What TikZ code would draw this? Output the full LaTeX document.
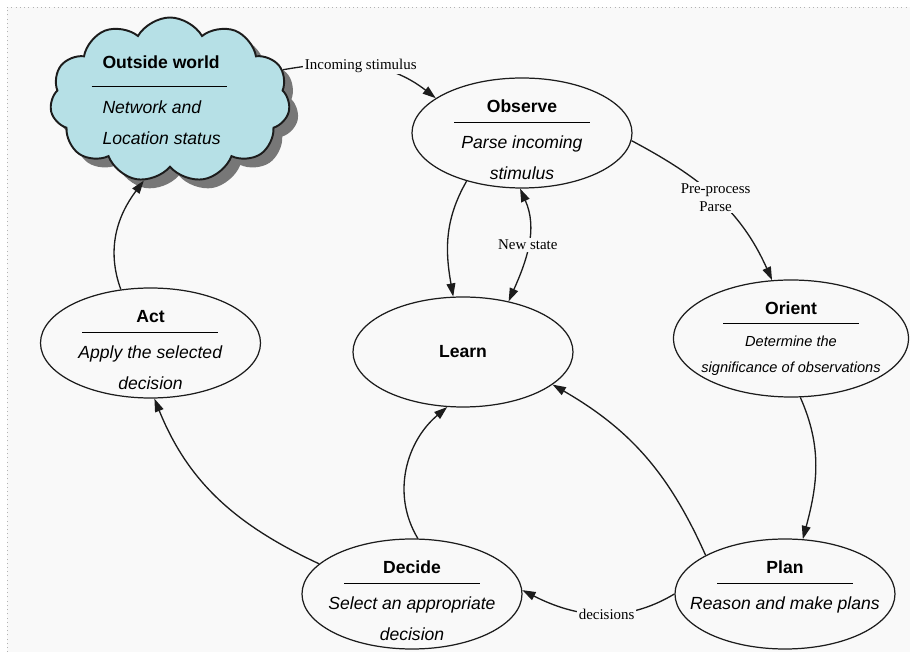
\documentclass[tikz,border=0pt]{standalone}
\usepackage{fontspec}
\setmainfont{Liberation Serif}
\setsansfont{Liberation Sans}
\usepackage{tikz}
\usetikzlibrary{shapes.geometric, shapes.symbols, arrows.meta, shadows}
\definecolor{cloudcolor}{RGB}{182, 224, 230}
\definecolor{pagecolor}{RGB}{249, 249, 249}
\definecolor{inkcolor}{RGB}{28, 28, 28}

\newcommand{\splitline}{\rule{2.72cm}{0.8pt}}
\newcommand{\stagetitle}[1]{\rule{0pt}{15pt}\textbf{#1}}

\begin{document}
\begin{tikzpicture}[
    >={Triangle[length=7.5pt, width=5pt]},
    stage/.style={draw=inkcolor, ellipse, line width=0.7pt, minimum width=4.4cm, minimum height=2.2cm, inner xsep=-0.4cm, inner ysep=-0.3cm, align=center, font=\sffamily\fontsize{10}{17.6}\selectfont},
    cloudbox/.style={cloud, cloud puffs=11, cloud puff arc=120, cloud ignores aspect, draw=inkcolor, line width=1.1pt, fill=cloudcolor, minimum width=4.8cm, minimum height=3.3cm, inner sep=-0.3cm, align=left, font=\sffamily\fontsize{10}{17.6}\selectfont, drop shadow={shadow xshift=5pt, shadow yshift=-5pt, opacity=0.7, fill=black!75}},
    arrow/.style={->, line width=0.75pt, draw=inkcolor},
    edgelabel/.style={font=\fontsize{8.5}{10.2}\selectfont, fill=pagecolor, inner sep=1pt, align=center}
]
    % Page
    \useasboundingbox (0,0) rectangle (18.2,13.04);
    \fill[pagecolor] (0.14,0) rectangle (18.2,12.9);
    \draw[gray!60, dotted] (0.14,0) -- (0.14,12.9) -- (18.2,12.9);

    % OODA stages
    \node[cloudbox] (world) at (3.40,11.04) {\textbf{Outside world}\\[-6.8pt]\hspace*{-0.22cm}\splitline\kern0.2cm\\[-2.9pt]\textit{Network and}\\\textit{Location status}};
    \node[stage] (observe) at (10.44,10.38) {\stagetitle{Observe}\\[-11.6pt]\splitline\\[-2.9pt]\textit{Parse incoming}\\\textit{stimulus}};
    \node[stage, minimum width=4.7cm, minimum height=2.34cm] (orient) at (15.82,6.27) {\textbf{Orient}\\[-11.9pt]\splitline\\[-4.6pt]{\fontsize{8.3}{10}\selectfont\textit{Determine the}}\\[-2.9pt]{\fontsize{8.3}{10}\selectfont\textit{significance of observations}}};
    \node[stage] (learn) at (9.26,6.00) {\textbf{Learn}};
    \node[stage] (act) at (3.01,6.18) {\stagetitle{Act}\\[-11.6pt]\splitline\\[-2.9pt]\textit{Apply the selected}\\\textit{decision}};
    \node[stage] (decide) at (8.24,1.16) {\stagetitle{Decide}\\[-11.6pt]\splitline\\[-2.9pt]\textit{Select an appropriate}\\\textit{decision}};
    \node[stage] (plan) at (15.70,1.16) {\stagetitle{Plan}\\[-11.6pt]\splitline\\[-2.9pt]\textit{Reason and make plans}\\\mbox{}};

    % Transitions
    \draw[arrow] (world.15) to[out=10, in=142] node[edgelabel, pos=0.48] {Incoming stimulus} (observe.158);
    \draw[arrow] (observe.-4) to[out=-28, in=114] node[edgelabel, pos=0.5] {Pre-process\\Parse} (orient.108);
    \draw[arrow] (observe.221) to[out=-120, in=100] (learn.100);
    \draw[arrow, <->] (observe.268) to[out=-66, in=66] node[edgelabel] {New state} (learn.48);
    \draw[arrow] (orient.-81) to[out=-66, in=75] (plan.72);
    \draw[arrow] (plan.154) to[out=114, in=-30] (learn.-20);
    \draw[arrow] (plan.180) to[out=-149, in=-27] node[edgelabel, pos=0.45] {decisions} (decide.2);
    \draw[arrow] (decide.84) to[out=121, in=-140] (learn.254);
    \draw[arrow] (decide.162) to[out=155, in=-68] (act.-86);
    \draw[arrow] (act.119) to[out=110, in=-127] (world.252);
\end{tikzpicture}
\end{document}
